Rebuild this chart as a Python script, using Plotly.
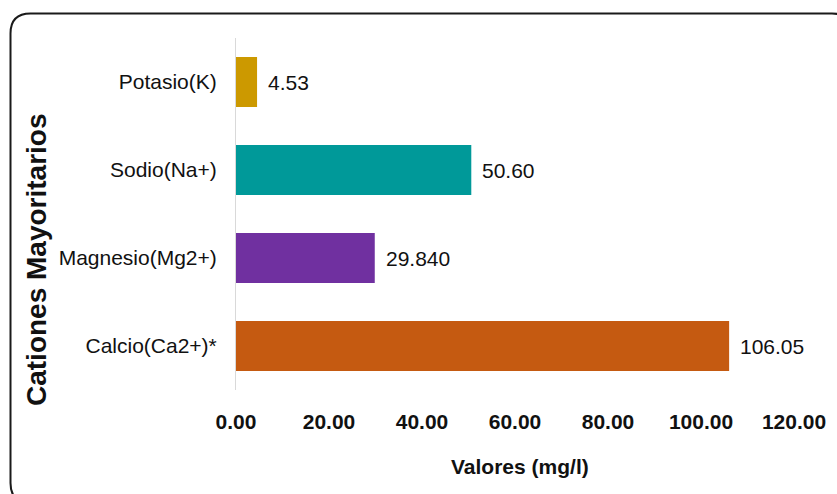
import plotly.graph_objects as go

# Major cations, listed bottom to top
categories = ["Calcio(Ca2+)*", "Magnesio(Mg2+)", "Sodio(Na+)", "Potasio(K)"]
values = [106.05, 29.84, 50.60, 4.53]
decimals = [2, 3, 2, 2]
colors = ["#C55A11", "#7030A0", "#009999", "#CC9900"]
x_ticks = [0, 20, 40, 60, 80, 100, 120]
x_tick_labels = [f"{t:.2f}" for t in x_ticks]

W, H = 837, 494
ML, MR, MT, MB = 236, 43, 38, 104
PW, PH = W - ML - MR, H - MT - MB

FONT = "Liberation Sans, Arial, sans-serif"

fig = go.Figure()
fig.add_trace(go.Bar(
    y=categories,
    x=values,
    orientation="h",
    marker=dict(color=colors, line=dict(width=0)),
    hoverinfo="skip",
))

# value labels just past the end of each bar
for cat, val, dec in zip(categories, values, decimals):
    fig.add_annotation(
        x=val, y=cat, xref="x", yref="y",
        text=f"{val:.{dec}f}", showarrow=False,
        xanchor="left", yanchor="middle", xshift=9,
        font=dict(family=FONT, size=21, color="#111111"),
    )

# axis titles
fig.add_annotation(
    x=(520 - ML) / PW, y=1 - (466 - MT) / PH, xref="paper", yref="paper",
    text="<b>Valores (mg/l)</b>", showarrow=False,
    xanchor="center", yanchor="middle",
    font=dict(family=FONT, size=21, color="#111111"),
)
fig.add_annotation(
    x=(36 - ML) / PW, y=1 - (260 - MT) / PH, xref="paper", yref="paper",
    text="<b>Cationes Mayoritarios</b>", showarrow=False, textangle=-90,
    xanchor="center", yanchor="middle",
    font=dict(family=FONT, size=28, color="#111111"),
)

# rounded outer frame
def px(xp):
    return (xp - ML) / PW

def py(yp):
    return 1 - (yp - MT) / PH

x0, x1, y0, y1, r = 10.5, 852, 13.5, 503, 20
path = (
    f"M {px(x0)},{py(y0 + r)} "
    f"Q {px(x0)},{py(y0)} {px(x0 + r)},{py(y0)} "
    f"L {px(x1 - r)},{py(y0)} "
    f"Q {px(x1)},{py(y0)} {px(x1)},{py(y0 + r)} "
    f"L {px(x1)},{py(y1 - r)} "
    f"Q {px(x1)},{py(y1)} {px(x1 - r)},{py(y1)} "
    f"L {px(x0 + r)},{py(y1)} "
    f"Q {px(x0)},{py(y1)} {px(x0)},{py(y1 - r)} Z"
)
fig.add_shape(type="path", path=path, xref="paper", yref="paper",
              line=dict(color="#1a1a1a", width=2), fillcolor="rgba(0,0,0,0)")

fig.update_layout(
    width=W, height=H,
    margin=dict(l=ML, r=MR, t=MT, b=MB),
    paper_bgcolor="white", plot_bgcolor="white",
    showlegend=False,
    bargap=0.43,
    xaxis=dict(
        range=[0, 120], tickvals=x_ticks, ticktext=x_tick_labels,
        showgrid=False, zeroline=False, showline=False,
        ticks="outside", ticklen=13, tickcolor="rgba(0,0,0,0)",
        tickfont=dict(family=FONT, size=21, color="#111111", weight="bold"),
        fixedrange=True,
    ),
    yaxis=dict(
        showgrid=False, zeroline=False,
        showline=True, linecolor="#D9D9D9", linewidth=1,
        ticks="outside", ticklen=14, tickcolor="rgba(0,0,0,0)",
        tickfont=dict(family=FONT, size=21, color="#111111"),
        fixedrange=True,
    ),
)

fig.write_html("out.html")
